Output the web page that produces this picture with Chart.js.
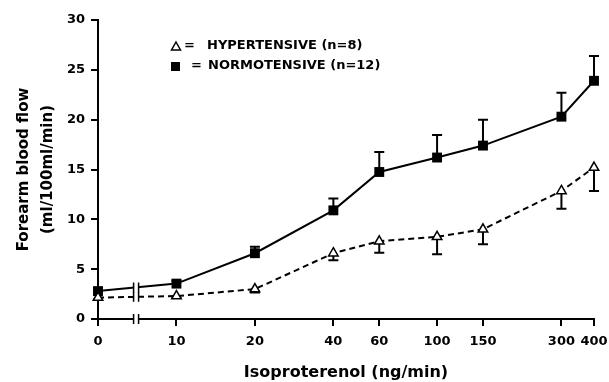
<!DOCTYPE html>
<html>
<head>
<meta charset="utf-8">
<script src="https://cdn.jsdelivr.net/npm/chart.js@4"></script>
<style>
  html, body { margin: 0; padding: 0; background: #fff; }
</style>
</head>
<body>
<canvas id="chart" width="609" height="382"></canvas>
<script>
// isoproterenol doses (ng/min), also used as the x tick labels
const doses = [0, 10, 20, 40, 60, 100, 150, 300, 400];

// forearm blood flow, ml/100ml/min
const normoMean = [2.8, 3.55, 6.6, 10.9, 14.75, 16.2, 17.4, 20.3, 23.9];
const normoSE   = [0.3, 0.3, 0.65, 1.2, 2.0, 2.25, 2.6, 2.4, 2.5];
const hyperMean = [2.15, 2.3, 3.0, 6.6, 7.8, 8.25, 9.0, 12.85, 15.2];
const hyperSE   = [0.2, 0.2, 0.35, 0.7, 1.15, 1.75, 1.5, 1.8, 2.35];

const yTicks = [0, 5, 10, 15, 20, 25, 30];

// the 0 dose is put half a decade under 10 on the log axis, with a break between
const ZERO_AT = 5;
const BREAK_AT = 7;

const FONT = '"DejaVu Sans", "Liberation Sans", sans-serif';
Chart.defaults.font.family = FONT;
Chart.defaults.font.weight = 'bold';
Chart.defaults.color = '#000';

const xOf = d => (d === 0 ? ZERO_AT : d);
const points = means => doses.map((d, i) => ({ x: xOf(d), y: means[i] }));

const extras = {
  id: 'extras',
  beforeDatasetsDraw(chart) {
    const ctx = chart.ctx;
    const y = chart.scales.y;
    const bars = [
      { ds: 0, se: hyperSE, dir: -1 },
      { ds: 1, se: normoSE, dir: 1 }
    ];
    ctx.save();
    ctx.strokeStyle = '#000';
    ctx.lineWidth = 2;
    bars.forEach(b => {
      const meta = chart.getDatasetMeta(b.ds);
      const data = chart.data.datasets[b.ds].data;
      meta.data.forEach((pt, i) => {
        const yEnd = y.getPixelForValue(data[i].y + b.dir * b.se[i]);
        ctx.beginPath();
        ctx.moveTo(pt.x, pt.y);
        ctx.lineTo(pt.x, yEnd);
        ctx.moveTo(pt.x - 5, yEnd);
        ctx.lineTo(pt.x + 5, yEnd);
        ctx.stroke();
      });
    });
    ctx.restore();
  },
  afterDraw(chart) {
    const ctx = chart.ctx;
    const xb = chart.scales.x.getPixelForValue(BREAK_AT);

    const breakMark = (yy, h) => {
      ctx.fillStyle = '#fff';
      ctx.fillRect(xb - 2, yy - 3, 4, 6);
      ctx.strokeStyle = '#000';
      ctx.lineWidth = 1.5;
      ctx.beginPath();
      ctx.moveTo(xb - 2.5, yy - h); ctx.lineTo(xb - 2.5, yy + h);
      ctx.moveTo(xb + 2.5, yy - h); ctx.lineTo(xb + 2.5, yy + h);
      ctx.stroke();
    };

    ctx.save();
    breakMark(chart.chartArea.bottom, 5);
    [0, 1].forEach(ds => {
      const p = chart.getDatasetMeta(ds).data;
      const yl = p[0].y + (p[1].y - p[0].y) * (xb - p[0].x) / (p[1].x - p[0].x);
      breakMark(yl, 5);
    });

    // legend
    const sets = chart.data.datasets;
    ctx.font = 'bold 13px ' + FONT;
    ctx.textBaseline = 'middle';
    // triangle
    ctx.beginPath();
    ctx.moveTo(176, 42); ctx.lineTo(180.5, 50); ctx.lineTo(171.5, 50); ctx.closePath();
    ctx.fillStyle = '#fff'; ctx.fill();
    ctx.strokeStyle = '#000'; ctx.lineWidth = 1.5; ctx.stroke();
    ctx.fillStyle = '#000';
    ctx.fillText('=', 184, 46);
    ctx.fillText(sets[0].label, 207, 46);
    // square
    ctx.fillRect(171, 62, 9, 9);
    ctx.fillText('=', 191, 66);
    ctx.fillText(sets[1].label, 208, 66);
    ctx.restore();
  }
};

new Chart(document.getElementById('chart'), {
  type: 'line',
  data: {
    datasets: [
      {
        label: 'HYPERTENSIVE (n=8)',
        data: points(hyperMean),
        borderColor: '#000',
        borderWidth: 2,
        borderDash: [6, 4],
        pointStyle: 'triangle',
        pointRadius: 5.5,
        pointBorderWidth: 1.5,
        pointBorderColor: '#000',
        pointBackgroundColor: '#fff',
        tension: 0,
        fill: false,
        clip: false
      },
      {
        label: 'NORMOTENSIVE (n=12)',
        data: points(normoMean),
        borderColor: '#000',
        borderWidth: 2,
        pointStyle: 'rect',
        pointRadius: 7,
        pointBorderWidth: 0,
        pointBackgroundColor: '#000',
        tension: 0,
        fill: false,
        clip: false
      }
    ]
  },
  options: {
    responsive: false,
    animation: false,
    devicePixelRatio: 1,
    layout: { padding: { top: 20, right: 15, bottom: 0, left: 0 } },
    plugins: {
      legend: { display: false },
      tooltip: { enabled: false }
    },
    scales: {
      x: {
        type: 'logarithmic',
        min: ZERO_AT,
        max: 400,
        afterBuildTicks: s => { s.ticks = doses.map(d => ({ value: xOf(d) })); },
        afterFit: s => { s.height = 63; s.paddingLeft = 0; s.paddingRight = 0; },
        ticks: {
          autoSkip: false,
          maxRotation: 0,
          minRotation: 0,
          padding: 8,
          font: { size: 13, weight: 'bold' },
          callback: v => (v === ZERO_AT ? '0' : String(v))
        },
        grid: { drawOnChartArea: false, drawTicks: true, tickLength: 7, color: '#000', lineWidth: 2 },
        border: { display: true, color: '#000', width: 2 },
        title: {
          display: true,
          text: 'Isoproterenol (ng/min)',
          font: { size: 16, weight: 'bold' },
          padding: { top: 0, bottom: 0 }
        }
      },
      y: {
        min: 0,
        max: 30,
        afterBuildTicks: s => { s.ticks = yTicks.map(v => ({ value: v })); },
        afterFit: s => { s.width = 98; },
        ticks: {
          padding: 6,
          font: { size: 13, weight: 'bold' }
        },
        grid: { drawOnChartArea: false, drawTicks: true, tickLength: 7, color: '#000', lineWidth: 2 },
        border: { display: true, color: '#000', width: 2 },
        title: {
          display: true,
          text: ['Forearm blood flow', '(ml/100ml/min)'],
          font: { size: 15, weight: 'bold', lineHeight: 1.6 },
          padding: { top: 12, bottom: 0 }
        }
      }
    }
  },
  plugins: [extras]
});
</script>
</body>
</html>
